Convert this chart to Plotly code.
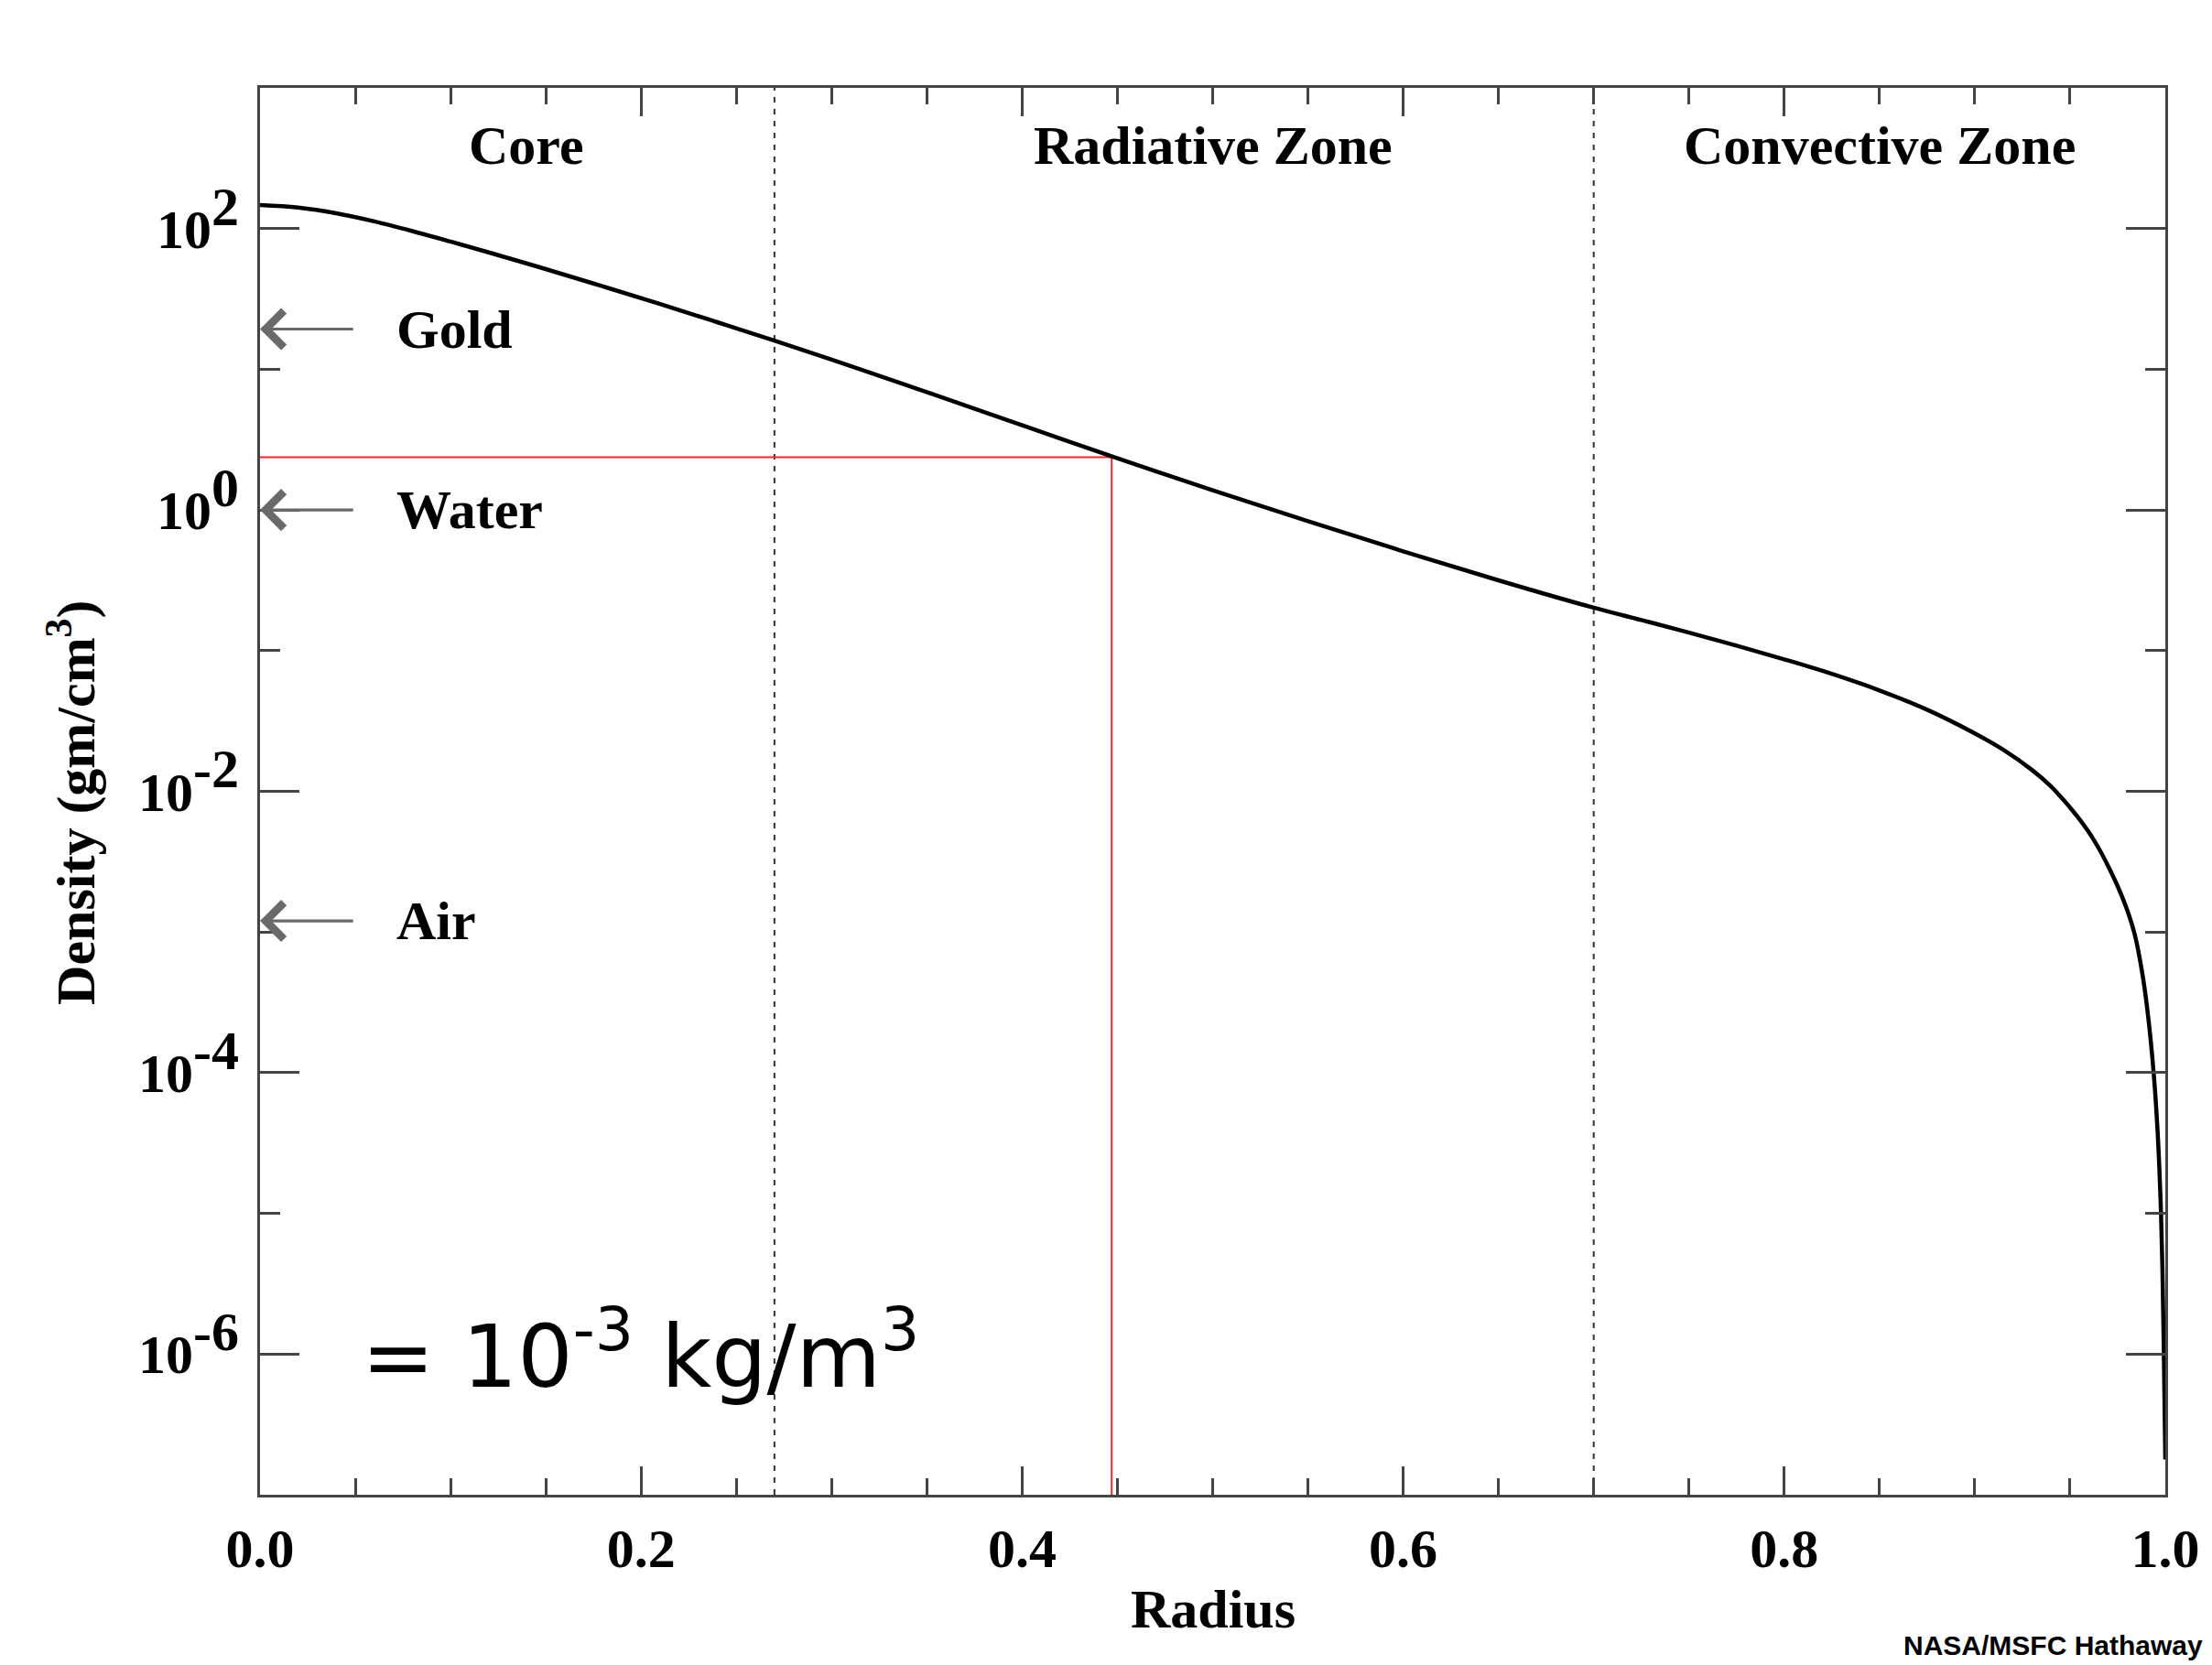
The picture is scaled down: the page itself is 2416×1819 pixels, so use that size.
import math
import plotly.graph_objects as go

# ---- data ----
radius = [0.0, 0.02, 0.04, 0.06, 0.08, 0.10, 0.12, 0.15, 0.18, 0.21,
          0.24, 0.27, 0.30, 0.33, 0.36, 0.39, 0.42, 0.45, 0.50, 0.55,
          0.60, 0.65, 0.70, 0.725, 0.75, 0.775, 0.80, 0.825, 0.85, 0.875,
          0.90, 0.915, 0.93, 0.94, 0.945, 0.95, 0.955, 0.96, 0.965, 0.97,
          0.975, 0.98, 0.984, 0.988, 0.991, 0.994, 0.996, 0.9975, 0.9985, 0.9993, 1.0]
density = [146.8, 140.8, 128.4, 112.4, 95.9, 80.8, 67.7, 51.5, 38.8, 29.1,
           21.6, 16.0, 11.72, 8.53, 6.17, 4.46, 3.22, 2.328, 1.379, 0.831,
           0.508, 0.316, 0.2018, 0.1650, 0.1343, 0.1084, 0.0867, 0.0684, 0.0521, 0.0380,
           0.0258, 0.01972, 0.01419, 0.01084, 0.00916, 0.00767, 0.00632, 0.00509, 0.00395, 0.00294,
           0.002113, 0.001429, 9.55e-4, 5.01e-4, 2.51e-4, 9.55e-5, 3.72e-5, 1.26e-5, 3.98e-6, 8.9e-7, 1.78e-7]

zone_names = ["Core", "Radiative Zone", "Convective Zone"]
zone_label_x = [0.14, 0.50, 0.85]
zone_boundaries = [0.27, 0.70]

materials = ["Gold", "Water", "Air"]
material_density = [19.3, 1.0, 1.2e-3]

marker_radius = 0.447
marker_density = 2.37

x_tick_vals = [0.0, 0.2, 0.4, 0.6, 0.8, 1.0]
x_tick_text = ["0.0", "0.2", "0.4", "0.6", "0.8", "1.0"]
y_tick_vals = [1e-6, 1e-4, 1e-2, 1e0, 1e2]
y_tick_exp = ["-6", "-4", "-2", "0", "2"]
y_minor_vals = [1e-7, 1e-5, 1e-3, 1e-1, 1e1, 1e3]

SERIF = "Liberation Serif"
SANS = "Liberation Sans"
AX = "#444444"
FS = 60

fig = go.Figure()

# zone boundaries (dotted)
for xb in zone_boundaries:
    fig.add_trace(go.Scatter(x=[xb, xb], y=[1e-7, 1e3], mode="lines",
                             line=dict(color="#333333", width=2, dash="6px,7px"),
                             hoverinfo="skip", showlegend=False))

# red marker lines
fig.add_trace(go.Scatter(x=[0.0, marker_radius, marker_radius],
                         y=[marker_density, marker_density, 1e-7],
                         mode="lines", line=dict(color="#ee2a2a", width=2),
                         hoverinfo="skip", showlegend=False))

# density curve
fig.add_trace(go.Scatter(x=radius, y=density, mode="lines",
                         line=dict(color="black", width=4.5, shape="spline", smoothing=1.0),
                         showlegend=False))

annotations = []
for name, xc in zip(zone_names, zone_label_x):
    annotations.append(dict(x=xc, y=2.59, xref="x", yref="y", text=name,
                            showarrow=False, xanchor="center", yanchor="middle",
                            font=dict(family=SERIF, size=FS, color="black", weight="bold")))

for name, d in zip(materials, material_density):
    ly = math.log10(d)
    annotations.append(dict(x=0.0, y=ly, ax=0.0496, ay=ly, xref="x", yref="y",
                            axref="x", ayref="y", text="", showarrow=True,
                            arrowhead=4, arrowsize=2.4, arrowwidth=3.2,
                            arrowcolor="#6a6a6a", standoff=0, startstandoff=0))
    annotations.append(dict(x=0.0704, y=ly, xref="x", yref="y", text=name,
                            showarrow=False, xanchor="left", yanchor="middle",
                            font=dict(family=SERIF, size=FS, color="black", weight="bold")))

annotations.append(dict(x=0.0525, y=-5.97, xref="x", yref="y",
                        text="= 10<sup>-3</sup> kg/m<sup>3</sup>", showarrow=False,
                        xanchor="left", yanchor="middle",
                        font=dict(family="DejaVu Sans", size=95, color="black")))

annotations.append(dict(x=0.5004, y=-0.0816, xref="paper", yref="paper", text="Radius",
                        showarrow=False, xanchor="center", yanchor="middle",
                        font=dict(family=SERIF, size=FS, color="black", weight="bold")))
annotations.append(dict(x=-0.0991, y=0.4924, xref="paper", yref="paper",
                        text="Density (gm/cm<sup>3</sup>)", textangle=-90,
                        showarrow=False, xanchor="center", yanchor="middle",
                        font=dict(family=SERIF, size=FS, color="black", weight="bold")))
annotations.append(dict(x=1.0209, y=-0.107, xref="paper", yref="paper",
                        text="NASA/MSFC Hathaway", showarrow=False,
                        xanchor="right", yanchor="middle",
                        font=dict(family=SANS, size=30, color="black", weight="bold")))

y_tick_text = ["10<sup><span style='font-size:%dpx'>%s</span></sup>" % (FS, e) for e in y_tick_exp]

fig.update_layout(
    width=2416, height=1819, autosize=False,
    margin=dict(l=284, r=51, t=96, b=186, pad=0),
    paper_bgcolor="white", plot_bgcolor="white",
    showlegend=False,
    annotations=annotations,
    xaxis=dict(range=[0, 1], tickvals=x_tick_vals, ticktext=x_tick_text,
               ticks="inside", ticklen=31, tickwidth=2.5, tickcolor=AX,
               showline=True, linecolor=AX, linewidth=3, mirror="ticks",
               showgrid=False, zeroline=False, ticklabelstandoff=4,
               tickfont=dict(family=SERIF, size=FS, color="black", weight="bold"),
               minor=dict(dtick=0.05, tick0=0, ticks="inside", ticklen=18,
                          tickwidth=2.5, tickcolor=AX, showgrid=False)),
    yaxis=dict(type="log", range=[-7, 3], tickvals=y_tick_vals, ticktext=y_tick_text,
               ticks="inside", ticklen=43, tickwidth=2.5, tickcolor=AX,
               showline=True, linecolor=AX, linewidth=3, mirror="ticks",
               showgrid=False, zeroline=False, ticklabelstandoff=8,
               tickfont=dict(family=SERIF, size=FS, color="black", weight="bold"),
               minor=dict(tickvals=y_minor_vals, ticks="inside", ticklen=22,
                          tickwidth=2.5, tickcolor=AX, showgrid=False)),
)

fig.write_html("out.html")
